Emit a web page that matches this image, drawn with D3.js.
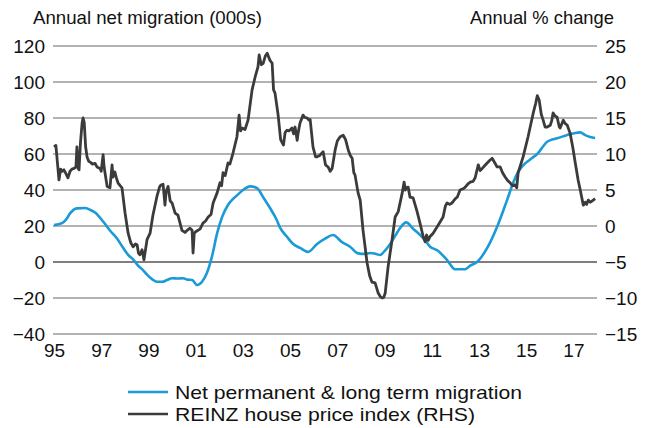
<!DOCTYPE html>
<html>
<head>
<meta charset="utf-8">
<script src="https://cdn.jsdelivr.net/npm/d3@7"></script>
<style>
  body { margin: 0; background: #fff; }
  svg { display: block; }
  text { font-family: "Liberation Sans", Arial, sans-serif; fill: #111; }
</style>
</head>
<body>
<svg id="chart" width="651" height="428"></svg>
<script>
// Axis ticks
const yearTicks = [1995, 1997, 1999, 2001, 2003, 2005, 2007, 2009, 2011, 2013, 2015, 2017];
const yearLabels = ["95", "97", "99", "01", "03", "05", "07", "09", "11", "13", "15", "17"];
const leftTicks = [-40, -20, 0, 20, 40, 60, 80, 100, 120];
const rightTicks = [-15, -10, -5, 0, 5, 10, 15, 20, 25];

// Net permanent & long term migration, annual total (000s)
const migrationYears = [
  1995.00, 1995.34, 1995.51, 1995.68, 1995.97, 1996.31, 1996.53, 1996.74, 1997.08, 1997.37,
  1997.67, 1997.92, 1998.14, 1998.35, 1998.56, 1998.77, 1998.94, 1999.15, 1999.36, 1999.58,
  1999.79, 2000.00, 2000.25, 2000.47, 2000.64, 2000.85, 2001.06, 2001.27, 2001.48, 2001.69,
  2001.91, 2002.12, 2002.37, 2002.58, 2002.75, 2003.01, 2003.31, 2003.60, 2003.86, 2004.15,
  2004.41, 2004.58, 2004.87, 2005.13, 2005.42, 2005.76, 2006.14, 2006.48, 2006.82, 2007.20,
  2007.54, 2007.88, 2008.18, 2008.39, 2008.64, 2008.81, 2009.03, 2009.24, 2009.45, 2009.66,
  2009.92, 2010.21, 2010.51, 2010.72, 2010.93, 2011.23, 2011.65, 2011.99, 2012.20, 2012.42,
  2012.63, 2012.92, 2013.35, 2013.77, 2014.19, 2014.45, 2014.66, 2014.87, 2015.17, 2015.47,
  2015.89, 2016.10, 2016.31, 2016.74, 2017.08, 2017.29, 2017.50, 2017.71, 2017.92
];
const migrationValues = [
  20.5, 21.6, 23.5, 27.0, 29.8, 30.0, 29.0, 27.5, 22.5, 17.5,
  13.0, 8.0, 4.0, 1.5, -2.0, -4.5, -7.0, -9.5, -11.0, -11.0,
  -10.0, -9.0, -9.2, -9.0, -9.8, -10.0, -12.8, -11.0, -6.0, 3.0,
  16.0, 25.0, 31.7, 35.0, 37.0, 40.0, 42.0, 41.0, 36.0, 30.0,
  24.0, 19.0, 14.0, 10.0, 7.8, 5.6, 10.0, 13.0, 15.0, 11.0,
  8.5, 4.8, 4.5, 5.0, 4.5, 3.9, 6.5, 10.0, 14.5, 18.9,
  22.0, 18.5, 15.0, 12.0, 8.5, 6.5, 1.1, -4.0, -4.0, -4.0,
  -2.0, 0.0, 7.8, 19.6, 34.4, 44.0, 50.0, 53.7, 57.0, 60.0,
  66.8, 68.0, 68.7, 70.6, 71.7, 72.0, 70.5, 69.5, 68.9
];

// REINZ house price index, annual % change (right-hand scale)
const houseYears = [
  1995.00, 1995.08, 1995.21, 1995.28, 1995.34, 1995.42, 1995.50, 1995.59, 1995.68, 1995.76,
  1995.85, 1995.93, 1995.97, 1996.02, 1996.06, 1996.12, 1996.19, 1996.23, 1996.28, 1996.34,
  1996.40, 1996.47, 1996.53, 1996.62, 1996.74, 1996.82, 1996.95, 1997.00, 1997.08, 1997.12,
  1997.16, 1997.25, 1997.37, 1997.46, 1997.50, 1997.58, 1997.65, 1997.71, 1997.80, 1997.88,
  1998.01, 1998.14, 1998.25, 1998.35, 1998.45, 1998.52, 1998.58, 1998.64, 1998.73, 1998.81,
  1998.94, 1999.07, 1999.19, 1999.36, 1999.47, 1999.53, 1999.62, 1999.70, 1999.75, 1999.83,
  1999.92, 2000.00, 2000.13, 2000.25, 2000.42, 2000.55, 2000.64, 2000.76, 2000.85, 2000.89,
  2000.94, 2001.00, 2001.10, 2001.19, 2001.31, 2001.42, 2001.53, 2001.65, 2001.74, 2001.91,
  2002.03, 2002.10, 2002.16, 2002.25, 2002.37, 2002.45, 2002.58, 2002.75, 2002.84, 2002.90,
  2002.97, 2003.09, 2003.22, 2003.39, 2003.52, 2003.64, 2003.69, 2003.78, 2003.86, 2003.95,
  2004.03, 2004.15, 2004.24, 2004.30, 2004.36, 2004.49, 2004.60, 2004.66, 2004.72, 2004.79,
  2004.87, 2004.95, 2005.08, 2005.15, 2005.21, 2005.30, 2005.34, 2005.42, 2005.55, 2005.62,
  2005.72, 2005.80, 2005.85, 2005.97, 2006.08, 2006.14, 2006.25, 2006.40, 2006.50, 2006.61,
  2006.70, 2006.78, 2006.91, 2007.00, 2007.12, 2007.25, 2007.35, 2007.46, 2007.55, 2007.63,
  2007.70, 2007.75, 2007.88, 2007.97, 2008.09, 2008.26, 2008.37, 2008.47, 2008.60, 2008.73,
  2008.82, 2008.90, 2008.97, 2009.03, 2009.15, 2009.32, 2009.45, 2009.58, 2009.75, 2009.83,
  2009.88, 2009.92, 2010.00, 2010.08, 2010.21, 2010.38, 2010.51, 2010.64, 2010.72, 2010.78,
  2010.85, 2010.92, 2011.06, 2011.27, 2011.48, 2011.58, 2011.65, 2011.76, 2011.86, 2012.00,
  2012.08, 2012.20, 2012.35, 2012.42, 2012.55, 2012.63, 2012.75, 2012.84, 2012.97, 2013.05,
  2013.14, 2013.25, 2013.35, 2013.45, 2013.56, 2013.65, 2013.77, 2013.90, 2014.00, 2014.11,
  2014.22, 2014.32, 2014.42, 2014.53, 2014.60, 2014.66, 2014.87, 2015.08, 2015.30, 2015.40,
  2015.47, 2015.55, 2015.64, 2015.72, 2015.80, 2015.89, 2016.02, 2016.08, 2016.14, 2016.22,
  2016.31, 2016.40, 2016.44, 2016.57, 2016.66, 2016.74, 2016.86, 2016.97, 2017.08, 2017.20,
  2017.29, 2017.42, 2017.50, 2017.56, 2017.63, 2017.72, 2017.80, 2017.92
];
const houseValues = [
  11.0, 11.2, 6.4, 7.9, 7.6, 7.8, 7.3, 6.7, 7.6, 7.9,
  8.0, 8.2, 11.0, 8.0, 7.8, 11.5, 14.3, 15.0, 14.4, 11.0,
  9.6, 9.0, 8.9, 8.6, 8.7, 8.2, 8.0, 7.6, 9.9, 8.3,
  7.4, 5.5, 5.3, 8.5, 6.8, 7.5, 6.6, 6.0, 5.6, 5.3,
  1.8, -1.0, -2.3, -2.9, -2.5, -2.6, -3.8, -4.0, -3.3, -4.7,
  -1.9, -1.0, 1.5, 4.1, 5.4, 5.7, 5.8, 2.9, 4.8, 5.5,
  3.5, 3.2, 1.8, 1.5, -0.6, -0.9, -0.6, -0.3, -0.6, -3.75,
  -1.0, -0.8, -0.6, -0.4, 0.4, 0.7, 1.25, 1.6, 3.2, 4.6,
  6.0, 5.6, 7.4, 7.0, 8.75, 8.6, 10.1, 12.4, 15.4, 13.2,
  13.6, 13.4, 14.7, 18.9, 20.7, 22.1, 23.75, 22.4, 22.6, 23.6,
  24.0, 23.0, 22.6, 18.9, 18.5, 15.5, 12.0, 11.6, 11.25, 13.0,
  13.3, 13.2, 13.6, 12.8, 13.75, 11.9, 12.9, 14.3, 15.4, 15.1,
  15.0, 14.7, 14.8, 11.0, 9.6, 9.6, 9.8, 10.3, 8.5, 8.2,
  7.6, 8.0, 10.6, 11.8, 12.4, 12.6, 12.0, 10.6, 9.8, 9.4,
  7.4, 7.1, 4.6, 3.6, -0.6, -5.1, -6.9, -7.8, -7.9, -9.3,
  -9.8, -10.0, -9.9, -9.3, -5.7, -1.9, 1.25, 2.0, 4.6, 6.1,
  5.0, 5.3, 5.4, 4.0, 3.9, 2.0, 0.3, -1.5, -2.2, -1.25,
  -2.0, -1.5, -1.0, 0.1, 1.25, 2.8, 3.2, 3.0, 3.2, 3.8,
  4.0, 5.0, 5.2, 5.4, 5.9, 6.1, 6.2, 6.7, 8.5, 7.7,
  8.0, 8.4, 8.75, 9.1, 9.4, 8.9, 8.2, 8.2, 7.4, 6.8,
  6.3, 6.0, 5.6, 5.7, 5.3, 7.4, 9.6, 12.4, 15.7, 17.0,
  18.1, 17.5, 15.5, 14.7, 13.75, 13.75, 14.0, 14.6, 15.7, 15.3,
  15.1, 13.8, 13.6, 14.7, 14.2, 14.0, 12.9, 11.0, 8.75, 6.4,
  5.0, 2.9, 3.3, 3.0, 3.6, 3.3, 3.5, 3.8
];

const svg = d3.select("#chart");
const plotLeft = 53, plotRight = 597, plotTop = 46, plotBottom = 334;

const x = d3.scaleLinear().domain([1995, 2018]).range([plotLeft + 1, plotRight]);
const yL = d3.scaleLinear().domain([-40, 120]).range([plotBottom, plotTop]);
const yR = d3.scaleLinear().domain([-15, 25]).range([plotBottom, plotTop]);

// Horizontal gridlines (left-axis ticks); zero line in black
svg.append("g")
  .selectAll("line")
  .data(leftTicks)
  .join("line")
  .attr("x1", plotLeft).attr("x2", plotRight)
  .attr("y1", d => yL(d)).attr("y2", d => yL(d))
  .attr("stroke", d => d === 0 ? "#000" : "#9a9a9a")
  .attr("stroke-width", d => d === 0 ? 1.2 : 1.5);

// Left axis labels
svg.append("g")
  .attr("transform", `translate(${plotLeft},0)`)
  .call(d3.axisLeft(yL).tickValues(leftTicks).tickSize(0).tickPadding(8))
  .call(g => g.select(".domain").remove())
  .call(g => g.attr("font-family", null).attr("font-size", null))
  .selectAll("text")
  .style("font-size", "19px");

// Right axis labels
svg.append("g")
  .attr("transform", `translate(${plotRight},0)`)
  .call(d3.axisRight(yR).tickValues(rightTicks).tickSize(0).tickPadding(8))
  .call(g => g.select(".domain").remove())
  .call(g => g.attr("font-family", null).attr("font-size", null))
  .selectAll("text")
  .style("font-size", "19px");

// Year labels
svg.append("g")
  .attr("transform", `translate(0,${plotBottom})`)
  .call(d3.axisBottom(x).tickValues(yearTicks).tickSize(0).tickPadding(10)
    .tickFormat((d, i) => yearLabels[i]))
  .call(g => g.select(".domain").remove())
  .call(g => g.attr("font-family", null).attr("font-size", null))
  .selectAll("text")
  .style("font-size", "19px");

// Axis titles
svg.append("text").attr("x", 33).attr("y", 24)
  .style("font-size", "19px")
  .attr("textLength", 229).attr("lengthAdjust", "spacingAndGlyphs")
  .text("Annual net migration (000s)");
svg.append("text").attr("x", 470).attr("y", 24)
  .style("font-size", "19px")
  .attr("textLength", 144).attr("lengthAdjust", "spacingAndGlyphs")
  .text("Annual % change");

// Series
const migration = migrationYears.map((t, i) => [t, migrationValues[i]]);
const house = houseYears.map((t, i) => [t, houseValues[i]]);

svg.append("path")
  .datum(migration)
  .attr("fill", "none")
  .attr("stroke", "#1a9ad6")
  .attr("stroke-width", 2.6)
  .attr("stroke-linejoin", "round")
  .attr("d", d3.line().x(d => x(d[0])).y(d => yL(d[1])).curve(d3.curveMonotoneX));

svg.append("path")
  .datum(house)
  .attr("fill", "none")
  .attr("stroke", "#3b3b3b")
  .attr("stroke-width", 2.8)
  .attr("stroke-linejoin", "round")
  .attr("d", d3.line().x(d => x(d[0])).y(d => yR(d[1])));

// Legend
const legendItems = [
  { label: "Net permanent & long term migration", color: "#1a9ad6", width: 347 },
  { label: "REINZ house price index (RHS)", color: "#3b3b3b", width: 300 }
];
const legend = svg.append("g").attr("transform", "translate(128,392)");
legendItems.forEach((item, i) => {
  const row = legend.append("g").attr("transform", `translate(0,${i * 22})`);
  row.append("line").attr("x1", 0).attr("x2", 40).attr("y1", 0).attr("y2", 0)
    .attr("stroke", item.color).attr("stroke-width", 2.6);
  row.append("text").attr("x", 47).attr("y", 0).attr("dy", "0.35em")
    .style("font-size", "19px")
    .attr("textLength", item.width).attr("lengthAdjust", "spacingAndGlyphs")
    .text(item.label);
});
</script>
</body>
</html>
